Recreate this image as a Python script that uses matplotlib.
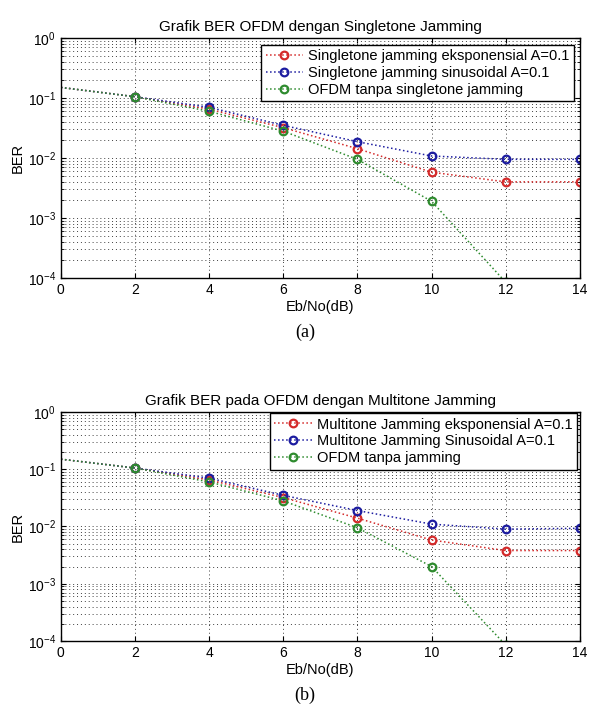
import numpy as np
import matplotlib
matplotlib.use("Agg")
import matplotlib.pyplot as plt

plt.rcParams['font.family'] = ['Liberation Sans', 'DejaVu Sans']

# Eb/No axis
ebno = [0, 2, 4, 6, 8, 10, 12, 14]

# (a) singletone jamming
ber_st_eksp = [0.15, 0.105, 0.065, 0.032, 0.0143, 0.0058, 0.0040, 0.0040]
ber_st_sin = [0.15, 0.105, 0.070, 0.035, 0.0187, 0.0108, 0.0095, 0.0095]
ber_st_ofdm = [0.15, 0.105, 0.060, 0.028, 0.0095, 0.0019, 8.5e-5, np.nan]

# (b) multitone jamming
ber_mt_eksp = [0.15, 0.105, 0.065, 0.032, 0.0140, 0.0058, 0.0038, 0.0038]
ber_mt_sin = [0.15, 0.105, 0.070, 0.035, 0.0190, 0.0110, 0.0090, 0.0093]
ber_mt_ofdm = [0.15, 0.105, 0.060, 0.028, 0.0095, 0.0020, 8.5e-5, np.nan]

titles = ["Grafik BER OFDM dengan Singletone Jamming",
          "Grafik BER pada OFDM dengan Multitone Jamming"]
labels_a = ["Singletone jamming eksponensial A=0.1",
            "Singletone jamming sinusoidal A=0.1",
            "OFDM tanpa singletone jamming"]
labels_b = ["Multitone Jamming eksponensial A=0.1",
            "Multitone Jamming Sinusoidal A=0.1",
            "OFDM tanpa jamming"]
captions = ["(a)", "(b)"]

colors = ['#d42a2a', '#1c1ca0', '#2e8b2e']

fig = plt.figure(figsize=(5.91, 7.05), dpi=100)
ax_a = fig.add_axes([0.103, 0.6057, 0.878, 0.3404])
ax_b = fig.add_axes([0.103, 0.0908, 0.878, 0.3248])

panels = [
    (ax_a, [ber_st_eksp, ber_st_sin, ber_st_ofdm], labels_a, titles[0], (0.988, 0.972)),
    (ax_b, [ber_mt_eksp, ber_mt_sin, ber_mt_ofdm], labels_b, titles[1], (0.994, 0.995)),
]

for ax, series, labels, title, lpos in panels:
    for y, lab, c in zip(series, labels, colors):
        ax.semilogy(ebno, y, linestyle=':', color=c, linewidth=1.1,
                    marker='o', markersize=5.5, markerfacecolor='none',
                    markeredgecolor=c, markeredgewidth=1.6,
                    markevery=slice(1, None), label=lab)
    ax.set_xlim(0, 14)
    ax.set_ylim(1e-4, 1e0)
    ax.set_xticks(range(0, 15, 2))
    ax.grid(True, which='major', axis='x', color='0.25', linestyle=(0, (1, 3)), linewidth=0.7)
    ax.grid(True, which='both', axis='y', color='0.25', linestyle=(0, (1, 3)), linewidth=0.7)
    ax.tick_params(which='both', direction='in', top=True, right=True, labelsize=10)
    for sp in ax.spines.values():
        sp.set_linewidth(1.0)
    ax.set_title(title, fontsize=11, pad=5)
    ax.set_xlabel("Eb/No(dB)", fontsize=10.5, labelpad=2)
    ax.set_ylabel("BER", fontsize=10.5, labelpad=2)
    leg = ax.legend(loc='upper right', bbox_to_anchor=lpos, fontsize=10.5,
                    fancybox=False, framealpha=1, edgecolor='k',
                    handlelength=2.6, borderpad=0.3, labelspacing=0.2,
                    handletextpad=0.3, borderaxespad=0)
    leg.get_frame().set_linewidth(1.0)

fig.text(305 / 591, 1 - 332 / 705, captions[0], ha='center', va='center',
         fontsize=13, family='Liberation Serif')
fig.text(305 / 591, 1 - 695 / 705, captions[1], ha='center', va='center',
         fontsize=13, family='Liberation Serif')

fig.savefig("out.png", dpi=100)
